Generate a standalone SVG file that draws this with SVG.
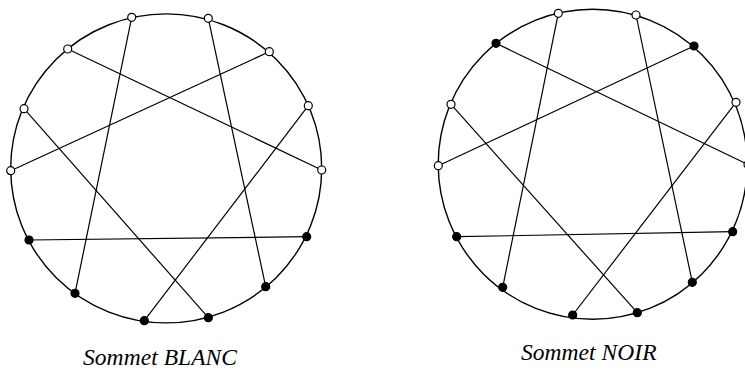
<svg xmlns="http://www.w3.org/2000/svg" width="745" height="371" viewBox="0 0 745 371">
<style>
.ring{fill:none;stroke:#000;stroke-width:1.4}
.e{stroke:#000;stroke-width:1.2;fill:none}
.w{fill:#fff;stroke:#000;stroke-width:1.2}
.b{fill:#000;stroke:#000;stroke-width:1.2}
.lbl{font-family:"Liberation Serif","Times New Roman",serif;font-style:italic;font-size:23.5px;fill:#000}
</style>
<rect width="745" height="371" fill="#fff"/>
<g id="circles">
<ellipse class="ring" cx="166.2" cy="168.4" rx="155.5" ry="154.5"/>
<ellipse class="ring" cx="592.7" cy="164.3" rx="154.5" ry="155"/>
</g>
<g id="connectors">
<line class="e" x1="131.7" y1="17.3" x2="75" y2="293.3"/>
<line class="e" x1="208.3" y1="18.3" x2="265.7" y2="286.7"/>
<line class="e" x1="67.7" y1="49" x2="321.7" y2="170"/>
<line class="e" x1="269.3" y1="51.7" x2="10.7" y2="170.7"/>
<line class="e" x1="24" y1="108.7" x2="208.3" y2="317.7"/>
<line class="e" x1="308.3" y1="105.7" x2="144.3" y2="320.7"/>
<line class="e" x1="29" y1="240" x2="306.7" y2="236.7"/>
<line class="e" x1="558.3" y1="13.3" x2="502.7" y2="287.3"/>
<line class="e" x1="636" y1="15" x2="692.3" y2="282.3"/>
<line class="e" x1="496" y1="43.3" x2="748" y2="164.5"/>
<line class="e" x1="694" y1="46" x2="438.3" y2="165.7"/>
<line class="e" x1="451" y1="104.3" x2="637.3" y2="312.7"/>
<line class="e" x1="736" y1="102.3" x2="572.7" y2="315"/>
<line class="e" x1="456.7" y1="236.7" x2="732.7" y2="231.7"/>
</g>
<g id="blanc">
<circle class="w" cx="131.7" cy="17.3" r="4"/>
<circle class="w" cx="208.3" cy="18.3" r="4"/>
<circle class="w" cx="67.7" cy="49" r="4"/>
<circle class="w" cx="269.3" cy="51.7" r="4"/>
<circle class="w" cx="24" cy="108.7" r="4"/>
<circle class="w" cx="308.3" cy="105.7" r="4"/>
<circle class="w" cx="10.7" cy="170.7" r="4"/>
<circle class="w" cx="321.7" cy="170" r="4"/>
<circle class="b" cx="29" cy="240" r="4"/>
<circle class="b" cx="306.7" cy="236.7" r="4"/>
<circle class="b" cx="75" cy="293.3" r="4"/>
<circle class="b" cx="265.7" cy="286.7" r="4"/>
<circle class="b" cx="144.3" cy="320.7" r="4"/>
<circle class="b" cx="208.3" cy="317.7" r="4"/>
<text class="lbl" x="83" y="365" textLength="154">Sommet BLANC</text>
</g>
<g id="noir">
<circle class="w" cx="558.3" cy="13.3" r="4"/>
<circle class="w" cx="636" cy="15" r="4"/>
<circle class="b" cx="496" cy="43.3" r="4"/>
<circle class="b" cx="694" cy="46" r="4"/>
<circle class="w" cx="451" cy="104.3" r="4"/>
<circle class="w" cx="736" cy="102.3" r="4"/>
<circle class="w" cx="438.3" cy="165.7" r="4"/>
<circle class="w" cx="748" cy="164.5" r="4"/>
<circle class="b" cx="456.7" cy="236.7" r="4"/>
<circle class="b" cx="732.7" cy="231.7" r="4"/>
<circle class="b" cx="502.7" cy="287.3" r="4"/>
<circle class="b" cx="692.3" cy="282.3" r="4"/>
<circle class="b" cx="572.7" cy="315" r="4"/>
<circle class="b" cx="637.3" cy="312.7" r="4"/>
<text class="lbl" x="521" y="359.5" textLength="135.5">Sommet NOIR</text>
</g>
</svg>
